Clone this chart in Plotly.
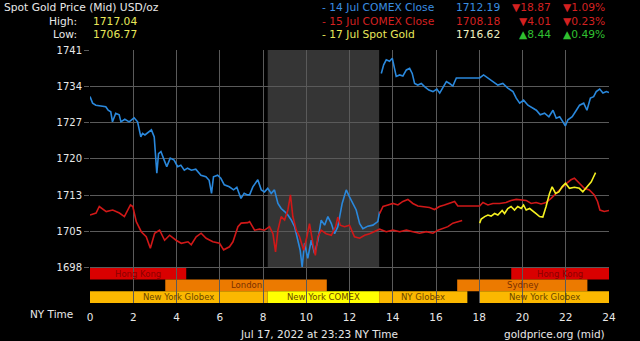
import plotly.graph_objects as go

# ---------------- data ----------------
blue_hours = [0.0, 0.12, 0.27, 0.5, 0.73, 0.84, 0.96, 1.04, 1.19, 1.35, 1.43, 1.61, 1.81, 2.04, 2.2, 2.35,
              2.43, 2.54, 2.74, 2.84, 2.97, 3.09, 3.17, 3.28, 3.43, 3.55, 3.71, 3.89, 4.05, 4.2, 4.36, 4.51,
              4.69, 4.89, 5.13, 5.36, 5.51, 5.62, 5.71, 5.9, 6.05, 6.21, 6.44, 6.64, 6.79, 6.98, 7.13, 7.28,
              7.38, 7.53, 7.76, 7.92, 8.07, 8.22, 8.38, 8.53, 8.69, 8.84, 9.0, 9.15, 9.31, 9.46, 9.61, 9.72,
              9.81, 9.92, 10.07, 10.23, 10.38, 10.54, 10.69, 10.85, 11.0, 11.16, 11.31, 11.46, 11.66, 11.85,
              12.0, 12.16, 12.31, 12.47, 12.62, 12.85, 13.08, 13.31, 13.39,
              13.43,
              13.47, 13.58, 13.7, 13.85, 13.98, 14.08, 14.16, 14.32, 14.47, 14.63, 14.78, 14.9, 15.01, 15.16,
              15.32, 15.47, 15.67, 15.86, 16.04, 16.17, 16.29, 16.48, 16.63, 16.78, 16.94, 18.02, 18.2, 18.4,
              18.63, 18.86, 19.09, 19.32, 19.56, 19.71, 19.87, 20.05, 20.25, 20.45, 20.64, 20.82, 21.02, 21.22,
              21.41, 21.56, 21.72, 21.87, 21.98, 22.1, 22.3, 22.49, 22.64, 22.83, 22.98, 23.14, 23.29, 23.41,
              23.57, 23.72, 23.88, 24.0]
blue_vals = [1732.1, 1730.8, 1730.4, 1730.2, 1730.1, 1729.4, 1729.1, 1727.1, 1728.8, 1728.5, 1727.1, 1727.6,
             1727.1, 1727.9, 1727.1, 1724.1, 1724.8, 1724.5, 1725.1, 1725.5, 1724.1, 1716.9, 1720.8, 1721.2,
             1719.5, 1718.2, 1719.9, 1719.5, 1718.2, 1718.5, 1717.5, 1717.9, 1717.5, 1717.7, 1716.5, 1716.2,
             1715.5, 1712.9, 1716.2, 1716.5, 1715.9, 1714.6, 1714.2, 1713.6, 1714.1, 1711.9, 1712.9, 1712.6,
             1712.6, 1714.2, 1715.6, 1713.6, 1713.2, 1713.9, 1712.9, 1713.6, 1710.9, 1709.9, 1709.3, 1708.6,
             1707.6, 1706.3, 1703.6, 1701.6, 1698.3, 1703.0, 1700.0, 1703.6, 1701.0, 1703.6, 1707.6, 1706.6,
             1708.3, 1706.9, 1704.9, 1706.3, 1710.9, 1713.6, 1712.2, 1710.9, 1709.6, 1706.9, 1705.9, 1706.4,
             1706.6, 1707.3, 1709.3,
             None,
             1736.7, 1738.4, 1739.4, 1739.1, 1739.7, 1737.4, 1736.1, 1736.4, 1736.2, 1737.4, 1737.7, 1736.7,
             1734.7, 1734.4, 1734.7, 1734.1, 1733.4, 1733.1, 1733.6, 1732.8, 1733.8, 1735.1, 1734.7, 1734.2,
             1735.8, 1735.8, 1736.4, 1735.8, 1735.1, 1734.4, 1734.7, 1733.8, 1733.1, 1731.8, 1730.8, 1731.4,
             1730.4, 1729.8, 1729.4, 1728.5, 1728.8, 1728.1, 1729.4, 1727.8, 1728.1, 1727.1, 1726.3, 1727.5,
             1728.1, 1729.4, 1730.4, 1730.8, 1729.4, 1731.8, 1732.1, 1733.1, 1733.6, 1732.8, 1733.1, 1732.9]

red_hours = [0.0, 0.28, 0.43, 0.75, 1.05, 1.36, 1.59, 1.87, 1.98, 2.14, 2.37, 2.6, 2.79, 2.99, 3.22, 3.45,
             3.68, 3.98, 4.22, 4.53, 4.68, 4.91, 5.14, 5.37, 5.68, 5.99, 6.18, 6.45, 6.61, 6.84, 6.99, 7.3,
             7.38, 7.61, 7.84, 8.07, 8.3, 8.46, 8.58, 8.69, 8.84, 9.0, 9.15, 9.27, 9.38, 9.54, 9.69, 9.88,
             10.03, 10.15, 10.31, 10.42, 10.54, 10.69, 10.92, 11.16, 11.36, 11.46, 11.57, 11.77, 12.0, 12.23,
             12.47, 12.7, 12.93, 13.16, 13.39, 13.7, 14.01, 14.32, 14.63, 14.93, 15.24, 15.55, 15.86, 16.09,
             16.32, 16.55, 16.78, 17.01, 17.21]
red_vals = [1708.6, 1709.0, 1710.3, 1709.3, 1709.6, 1709.0, 1708.3, 1710.6, 1710.3, 1707.3, 1705.3, 1704.3,
            1702.0, 1705.0, 1705.6, 1703.6, 1704.6, 1703.6, 1703.0, 1703.3, 1702.7, 1704.3, 1705.0, 1704.0,
            1703.3, 1703.0, 1701.7, 1702.3, 1703.3, 1706.3, 1707.0, 1707.1,
            1707.3, 1705.6, 1705.8, 1705.6, 1706.3, 1704.9, 1701.3, 1705.6, 1708.3, 1707.6, 1709.6, 1712.6,
            1708.3, 1705.6, 1704.3, 1701.6, 1704.3, 1706.9, 1703.0, 1700.6, 1704.3, 1705.6, 1704.9, 1704.6,
            1706.3, 1708.2, 1706.6, 1706.3, 1706.6, 1704.3, 1704.0, 1704.6, 1704.9, 1705.3, 1705.8, 1705.3,
            1705.6, 1705.3, 1705.6, 1705.3, 1705.0, 1705.3, 1705.0, 1705.6, 1706.0, 1706.3, 1707.0, 1707.3,
            1707.5]

red2_hours = [13.39, 13.55, 13.78, 14.01, 14.24, 14.47, 14.7, 14.93, 15.16, 15.39, 15.7, 15.93, 16.16, 16.39,
              16.63, 16.86, 17.01, 18.02, 18.17, 18.4, 18.63, 18.94, 19.24, 19.47, 19.71, 19.94, 20.17, 20.4,
              20.63, 20.86, 21.09, 21.32, 21.55, 21.78, 22.01, 22.24, 22.4, 22.63, 22.86, 23.09, 23.32, 23.47,
              23.58, 23.78, 24.0]
red2_vals = [1708.9, 1710.3, 1710.6, 1710.9, 1710.6, 1711.3, 1711.7, 1710.9, 1710.4, 1710.3, 1710.1, 1709.7,
             1710.3, 1710.6, 1710.9, 1711.3, 1710.4, 1710.4, 1711.1, 1710.6, 1710.9, 1710.9, 1711.1, 1711.5,
             1711.7, 1711.6, 1711.5, 1710.9, 1711.1, 1710.8, 1711.1, 1711.9, 1712.9, 1713.9, 1714.8, 1715.6,
             1715.9, 1714.9, 1713.9, 1713.6, 1712.6, 1711.3, 1709.6, 1709.3, 1709.5]

yellow_hours = [18.02, 18.09, 18.25, 18.4, 18.55, 18.71, 18.86, 19.06, 19.17, 19.32, 19.47, 19.63, 19.78,
                19.94, 20.05, 20.17, 20.33, 20.48, 20.63, 20.79, 20.94, 21.09, 21.25, 21.37, 21.53, 21.68,
                21.83, 21.99, 22.17, 22.4, 22.63, 22.79, 22.98, 23.18, 23.29, 23.38]
yellow_vals = [1707.0, 1707.8, 1708.3, 1708.6, 1708.4, 1708.9, 1708.6, 1709.5, 1708.9, 1709.9, 1710.3, 1709.6,
               1710.3, 1709.9, 1710.6, 1709.6, 1709.9, 1709.3, 1708.9, 1708.3, 1708.2, 1710.3, 1712.9, 1714.2,
               1712.9, 1713.2, 1714.2, 1714.9, 1713.9, 1714.1, 1713.9, 1713.2, 1714.2, 1715.2, 1716.2, 1717.0]

y_ticks = [1698.15, 1705.35, 1712.55, 1719.75, 1726.95, 1734.15, 1741.35]
y_tick_labels = ["1698", "1705", "1713", "1720", "1727", "1734", "1741"]
x_ticks = [0, 2, 4, 6, 8, 10, 12, 14, 16, 18, 20, 22, 24]

# sessions: (row, start, end, label, fill, text colour)
sessions = [
    (0, 0.0, 4.45, "Hong Kong", "#d90000", "#8a0000"),
    (0, 19.48, 24.0, "Hong Kong", "#d90000", "#8a0000"),
    (1, 3.48, 10.95, "London", "#ec7a00", "#7a3000"),
    (1, 16.98, 23.0, "Sydney", "#ec7a00", "#7a3000"),
    (2, 0.0, 8.22, "New York Globex", "#fbb800", "#6a4500"),
    (2, 8.22, 13.37, "New York COMEX", "#ffff00", "#6a4500"),
    (2, 13.37, 17.45, "NY Globex", "#fbb800", "#6a4500"),
    (2, 18.0, 24.0, "New York Globex", "#fbb800", "#6a4500"),
]

# ---------------- figure ----------------
W, H = 640, 341
L, R, T, B = 90, 31, 50, 38
Y_MIN, Y_MAX = 1691.15, 1741.35
FONT = "DejaVu Sans"

fig = go.Figure()
fig.add_trace(go.Scatter(x=blue_hours, y=blue_vals, mode="lines", connectgaps=False,
                         line=dict(color="#2a88dc", width=1.6), hoverinfo="skip"))
fig.add_trace(go.Scatter(x=red_hours, y=red_vals, mode="lines",
                         line=dict(color="#d01818", width=1.6), hoverinfo="skip"))
fig.add_trace(go.Scatter(x=red2_hours, y=red2_vals, mode="lines",
                         line=dict(color="#d01818", width=1.6), hoverinfo="skip"))
fig.add_trace(go.Scatter(x=yellow_hours, y=yellow_vals, mode="lines",
                         line=dict(color="#f4f020", width=1.6), hoverinfo="skip"))

shapes = []
# grey COMEX window
shapes.append(dict(type="rect", xref="x", yref="y", x0=8.22, x1=13.37, y0=y_ticks[0], y1=Y_MAX,
                   fillcolor="#353535", line=dict(width=0), layer="below"))
row_h = (y_ticks[0] - Y_MIN) / 3.0
annotations = []
for row, x0, x1, label, fill, tcol in sessions:
    ytop = y_ticks[0] - row * row_h
    ybot = ytop - row_h
    shapes.append(dict(type="rect", xref="x", yref="y", x0=x0, x1=x1, y0=ybot, y1=ytop,
                       fillcolor=fill, line=dict(width=0), layer="below"))
    annotations.append(dict(x=(x0 + x1) / 2, y=(ytop + ybot) / 2, xref="x", yref="y", text=label,
                            showarrow=False, font=dict(family=FONT, size=8.5, color=tcol),
                            xanchor="center", yanchor="middle"))


def px_x(p):
    return (p - L) / (W - L - R)


def px_y(p):
    return (H - B - p) / (H - T - B)


def txt(x, y, s, color, anchor="left", size=10.7):
    annotations.append(dict(x=px_x(x), y=px_y(y), xref="paper", yref="paper", text=s, showarrow=False,
                            font=dict(family=FONT, size=size, color=color), xanchor=anchor,
                            yanchor="middle"))


WHITE = "#e8e8e8"
YEL = "#e8e85a"
BLUE = "#3a8ee0"
RED = "#d42020"
GREEN = "#30c030"

txt(2, 7, "Spot Gold Price (Mid) USD/oz", WHITE)
txt(79, 21, "High:", WHITE, "right")
txt(91, 21, "1717.04", YEL)
txt(79, 35, "Low:", WHITE, "right")
txt(91, 35, "1706.77", YEL)

rows = [
    (7, "- 14 Jul COMEX Close", "1712.19", "▼18.87", "▼1.09%", BLUE, BLUE, RED),
    (21, "- 15 Jul COMEX Close", "1708.18", "▼4.01", "▼0.23%", RED, RED, RED),
    (35, "- 17 Jul Spot Gold", "1716.62", "▲8.44", "▲0.49%", YEL, "#f0f0c0", GREEN),
]
for y, name, val, chg, pct, c1, c2, c3 in rows:
    txt(320, y, name, c1)
    txt(502, y, val, c2, "right")
    txt(553, y, chg, c3, "right")
    txt(607, y, pct, c3, "right")

txt(75, 314, "NY Time", WHITE, "right", 10.5)
txt(319, 334, "Jul 17, 2022 at 23:23 NY Time", WHITE, "center", 10.5)
txt(607, 334, "goldprice.org (mid)", WHITE, "right", 10.5)

fig.update_layout(
    width=W, height=H, margin=dict(l=L, r=R, t=T, b=B),
    paper_bgcolor="#000000", plot_bgcolor="#000000",
    showlegend=False, shapes=shapes, annotations=annotations,
    font=dict(family=FONT, size=10, color=WHITE),
)
fig.update_xaxes(range=[0, 24], tickvals=x_ticks, showgrid=True, gridcolor="#5a5a5a", gridwidth=1,
                 zeroline=False, showline=False, ticks="", ticklabelstandoff=6,
                 tickfont=dict(family=FONT, size=10.5, color=WHITE), fixedrange=True)
fig.update_yaxes(range=[Y_MIN, Y_MAX], tickvals=y_ticks, ticktext=y_tick_labels, showgrid=True,
                 gridcolor="#5a5a5a", gridwidth=1, zeroline=False, showline=False, ticks="outside",
                 ticklen=5, tickcolor="#5a5a5a", tickfont=dict(family=FONT, size=10, color=WHITE),
                 fixedrange=True)

fig.write_html("out.html")
